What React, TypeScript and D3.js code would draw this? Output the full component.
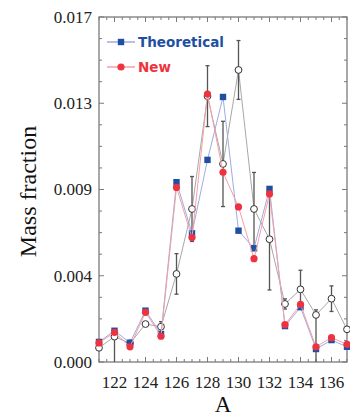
import React from "react";
import * as d3 from "d3";

const massNumbers = [121, 122, 123, 124, 125, 126, 127, 128, 129, 130, 131, 132, 133, 134, 135, 136, 137];
const theoretical = [0.00099, 0.00154, 0.00095, 0.00253, 0.00138, 0.00886, 0.00634, 0.00996, 0.01306, 0.00647, 0.0056, 0.00853, 0.00177, 0.0027, 0.00064, 0.00108, 0.00075];
const newValues = [0.00094, 0.00146, 0.00075, 0.00245, 0.00127, 0.0086, 0.00613, 0.0132, 0.00935, 0.00764, 0.00509, 0.00828, 0.00184, 0.00284, 0.00075, 0.0012, 0.00087];
const observed = [0.0007, 0.00125, 0.00092, 0.00187, 0.00174, 0.00434, 0.00754, 0.0131, 0.00976, 0.01439, 0.00754, 0.00605, 0.00286, 0.00358, 0.00232, 0.00312, 0.00161];
const observedErrLow = [0, 0.00125, 0, 0, 0.00025, 0.001, 0.0016, 0.0015, 0.0021, 0.00145, 0.0018, 0.0025, 0.00025, 0.00094, 0.00232, 0.00063, 0];
const observedErrHigh = [0, 0, 0, 0, 0.00025, 0.001, 0.0016, 0.0015, 0.0021, 0.00145, 0.0018, 0.0025, 0.00025, 0.00094, 0.00025, 0.00063, 0];
const yTickValues = [0, 0.00425, 0.0085, 0.01275, 0.017];
const yTickLabels = ["0.000", "0.004", "0.009", "0.013", "0.017"];
const xTickValues = [122, 124, 126, 128, 130, 132, 134, 136];

const W = 350, H = 416;
const L = 99, R = 347, T = 17, B = 362;

export default function App() {
  const x = d3.scaleLinear().domain([121, 137]).range([L, R]);
  const y = d3.scaleLinear().domain([0, 0.017]).range([B, T]);
  const serif = "'Liberation Serif', 'Times New Roman', serif";
  const sans = "'DejaVu Sans', sans-serif";
  const axisColor = "#7a7a7a";

  const xMinor = d3.range(121, 137.01, 0.5);
  const yMinor = d3.range(0, 0.0171, 0.0010625);

  const line = (vals: number[]) =>
    d3.line<number>().x((_, i) => x(massNumbers[i])).y((v) => y(v))(vals) || "";

  return (
    <svg width={W} height={H} style={{ position: "absolute", left: 0, top: 0 }} >
      <rect x={0} y={0} width={W} height={H} fill="#fff" />
      {/* frame */}
      <rect x={L} y={T} width={R - L} height={B - T} fill="none" stroke={axisColor} strokeWidth={1.3} />
      {/* x ticks */}
      {xMinor.map((v, i) => {
        const major = xTickValues.includes(v);
        const len = major ? 5 : 3;
        return (
          <g key={"xm" + i} stroke={axisColor} strokeWidth={1}>
            <line x1={x(v)} x2={x(v)} y1={B} y2={B - len} />
            <line x1={x(v)} x2={x(v)} y1={T} y2={T + len} />
          </g>
        );
      })}
      {/* y ticks */}
      {yMinor.map((v, i) => {
        const major = i % 4 === 0;
        const len = major ? 5 : 3;
        return (
          <g key={"ym" + i} stroke={axisColor} strokeWidth={1}>
            <line x1={L} x2={L + len} y1={y(v)} y2={y(v)} />
            <line x1={R} x2={R - len} y1={y(v)} y2={y(v)} />
          </g>
        );
      })}
      {yTickValues.map((v, i) => (
        <text key={"yl" + i} x={92} y={y(v)} dy="0.35em" textAnchor="end" fontFamily={serif} fontSize={17} fill="#222">
          {yTickLabels[i]}
        </text>
      ))}
      {xTickValues.map((v, i) => (
        <text key={"xl" + i} x={x(v)} y={388} textAnchor="middle" fontFamily={serif} fontSize={17} fill="#222">
          {v}
        </text>
      ))}
      <text x={x(129)} y={412} textAnchor="middle" fontFamily={serif} fontSize={23} fill="#111">A</text>
      <text transform={`translate(36,${(T + B) / 2 + 2}) rotate(-90)`} textAnchor="middle" fontFamily={serif} fontSize={24} fill="#111">
        Mass fraction
      </text>

      {/* observed series */}
      <path d={line(observed)} fill="none" stroke="#a8a8a8" strokeWidth={1} />
      {observed.map((v, i) => {
        const lo = v - observedErrLow[i];
        const hi = v + observedErrHigh[i];
        if (observedErrLow[i] === 0 && observedErrHigh[i] === 0) return null;
        const cx = x(massNumbers[i]);
        return (
          <g key={"eb" + i} stroke="#555" strokeWidth={1.3}>
            <line x1={cx} x2={cx} y1={y(Math.max(lo, 0))} y2={y(hi)} />
            {observedErrHigh[i] > 0 && <line x1={cx - 2} x2={cx + 2} y1={y(hi)} y2={y(hi)} />}
            {lo > 0 && <line x1={cx - 2} x2={cx + 2} y1={y(lo)} y2={y(lo)} />}
          </g>
        );
      })}
      {observed.map((v, i) => (
        <circle key={"oc" + i} cx={x(massNumbers[i])} cy={y(v)} r={3.4} fill="#fff" stroke="#333" strokeWidth={1} />
      ))}

      {/* theoretical series */}
      <path d={line(theoretical)} fill="none" stroke="#9eabe2" strokeWidth={1} />
      {theoretical.map((v, i) => (
        <rect key={"sq" + i} x={x(massNumbers[i]) - 3.2} y={y(v) - 3.2} width={6.4} height={6.4} fill="#1f4fa3" />
      ))}

      {/* new series */}
      <path d={line(newValues)} fill="none" stroke="#f3a0a6" strokeWidth={1} />
      {newValues.map((v, i) => (
        <circle key={"nc" + i} cx={x(massNumbers[i])} cy={y(v)} r={3.6} fill="#ee3340" />
      ))}

      {/* legend */}
      <line x1={107} x2={135} y1={42} y2={42} stroke="#9eabe2" strokeWidth={1.5} />
      <rect x={121 - 3.2} y={42 - 3.2} width={6.4} height={6.4} fill="#1f4fa3" />
      <text x={138} y={47} fontFamily={sans} fontWeight="bold" fontSize={13.5} fill="#1f4fa3">Theoretical</text>
      <line x1={107} x2={135} y1={67} y2={67} stroke="#f3a0a6" strokeWidth={1.5} />
      <circle cx={121} cy={67} r={3.6} fill="#ee3340" />
      <text x={138} y={72} fontFamily={sans} fontWeight="bold" fontSize={13.5} fill="#ee3340">New</text>
    </svg>
  );
}
